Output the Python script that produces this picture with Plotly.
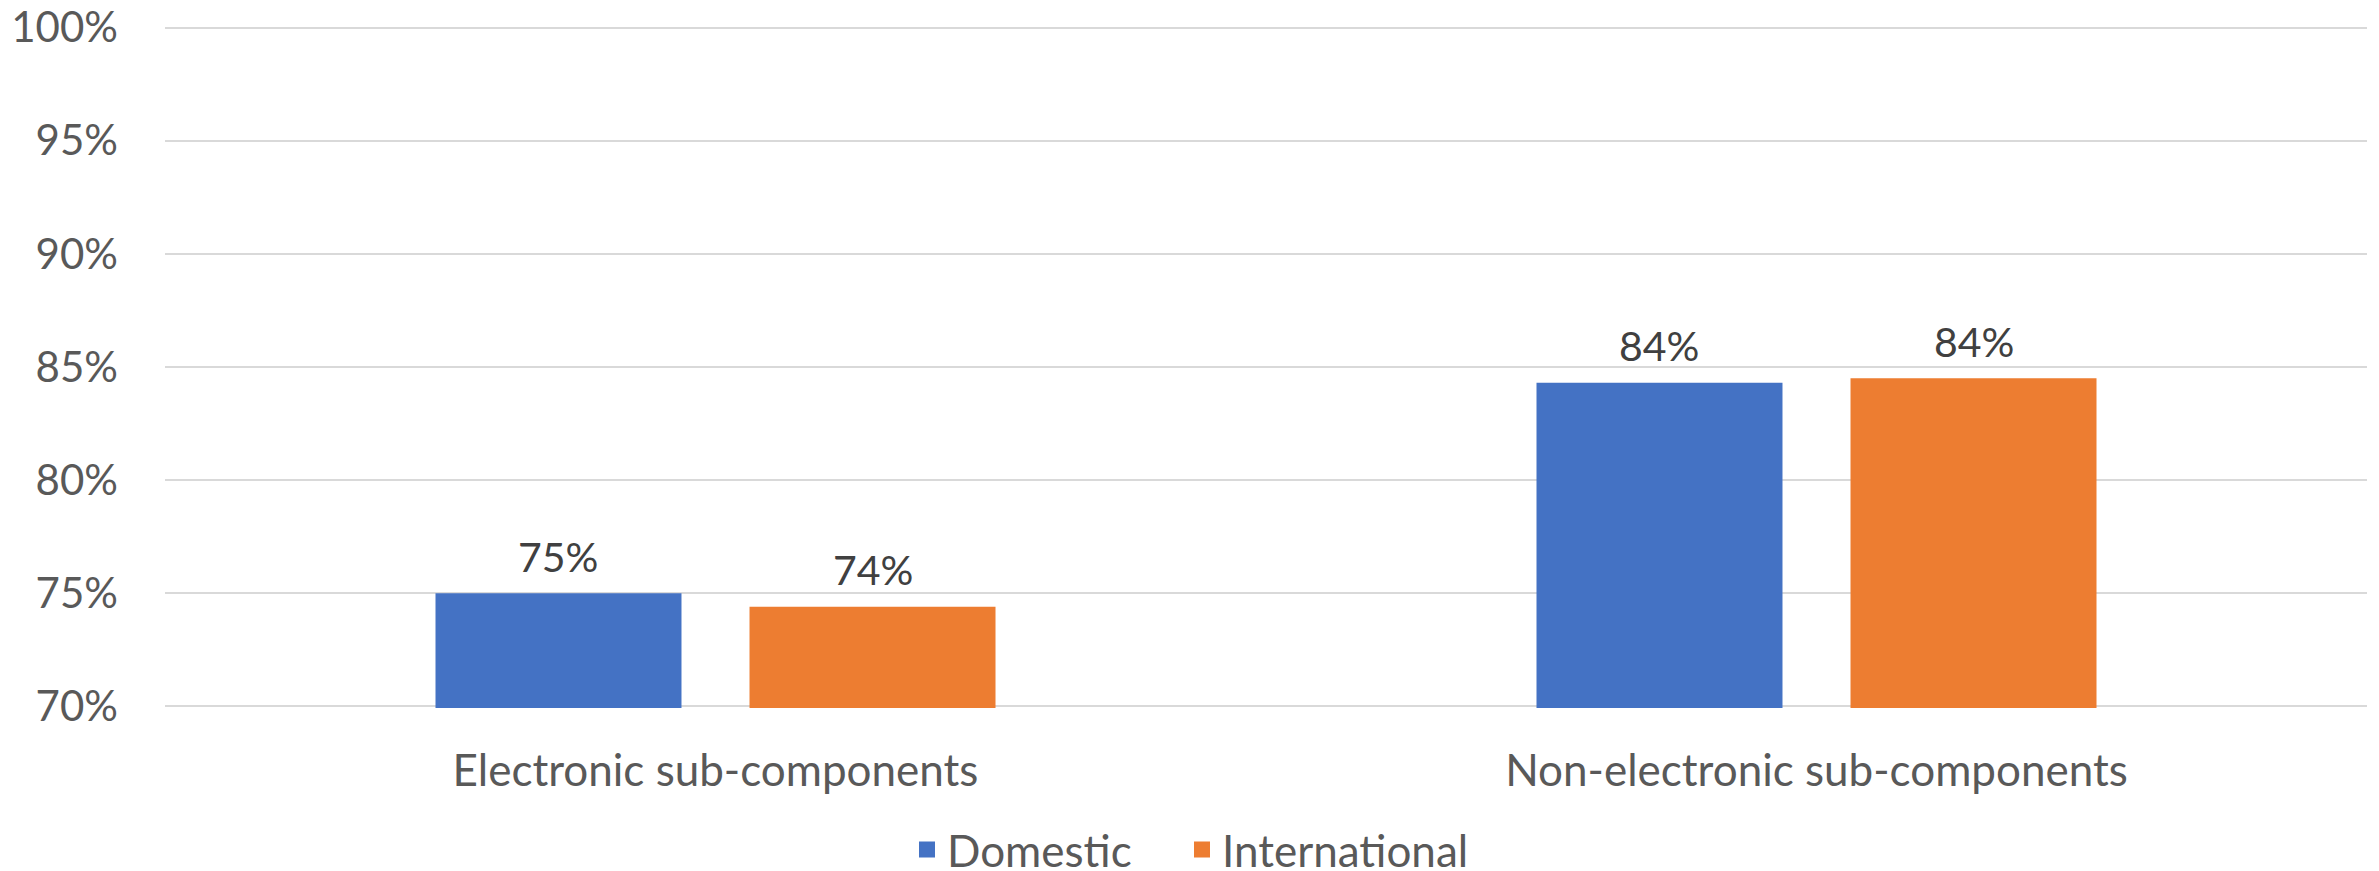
import plotly.graph_objects as go

categories = ["Electronic sub-components", "Non-electronic sub-components"]
series_names = ["Domestic", "International"]
domestic = [0.750, 0.843]
international = [0.744, 0.845]
labels_domestic = ["75%", "84%"]
labels_international = ["74%", "84%"]
y_ticks = [0.70, 0.75, 0.80, 0.85, 0.90, 0.95, 1.00]

colors = ["#4472C4", "#ED7D31"]
FONT = "Lato"

# page has an 8px body margin; figure sized to fill the remaining viewport
W, H = 2371, 863
ML, MR, MT, MB = 157, 12, 18, 163
plot_w = W - ML - MR
plot_h = H - MT - MB
cat_px = plot_w / len(categories)
bargap = 0.4296
group_px = cat_px * (1 - bargap)
offset_px = group_px / 4

legend_refs = ["legend", "legend2"]
legend_left_px = [899, 1174]

fig = go.Figure()
for name, vals, col, lg in [(series_names[0], domestic, colors[0], legend_refs[0]),
                            (series_names[1], international, colors[1], legend_refs[1])]:
    fig.add_trace(go.Bar(x=categories, y=vals, name=name, marker_color=col,
                         marker_line_width=0, showlegend=False))
    fig.add_trace(go.Scatter(x=[None], y=[None], mode="markers", name=name,
                             marker=dict(symbol="square", size=25, color=col),
                             showlegend=True, legend=lg))

annotations = []
for vals, labs, sign in [(domestic, labels_domestic, -1), (international, labels_international, 1)]:
    for c, v, t in zip(categories, vals, labs):
        annotations.append(dict(x=c, y=v, xref="x", yref="y", text=t, showarrow=False,
                                xshift=sign * offset_px, yshift=37, yanchor="middle",
                                font=dict(family=FONT, size=41, color="#404040")))

legend_y = -(842 - (H - MB)) / plot_h


def legend_style(left_px):
    return dict(orientation="h", x=(left_px - ML) / plot_w, xanchor="left",
                y=legend_y, yanchor="middle",
                font=dict(family=FONT, size=44, color="#595959"),
                itemwidth=30, bgcolor="rgba(0,0,0,0)")


fig.update_layout(
    width=W, height=H,
    margin=dict(l=ML, r=MR, t=MT, b=MB, autoexpand=False),
    paper_bgcolor="white", plot_bgcolor="white",
    barmode="group", bargap=bargap, bargroupgap=0.2166,
    font=dict(family=FONT, size=42, color="#595959"),
    annotations=annotations,
    legend=legend_style(legend_left_px[0]),
    legend2=legend_style(legend_left_px[1]),
    xaxis=dict(showgrid=False, showline=False, ticks="", ticklabelstandoff=33,
               tickfont=dict(family=FONT, size=44, color="#595959")),
    yaxis=dict(range=[0.6993, 1.0007], tickvals=y_ticks, tickformat=".0%",
               showgrid=True, gridcolor="#D9D9D9", gridwidth=2, zeroline=False,
               showline=False, ticks="", ticklabelstandoff=46, ticklabeloverflow="allow",
               tickfont=dict(family=FONT, size=42, color="#595959")),
)

fig.write_html("out.html")
